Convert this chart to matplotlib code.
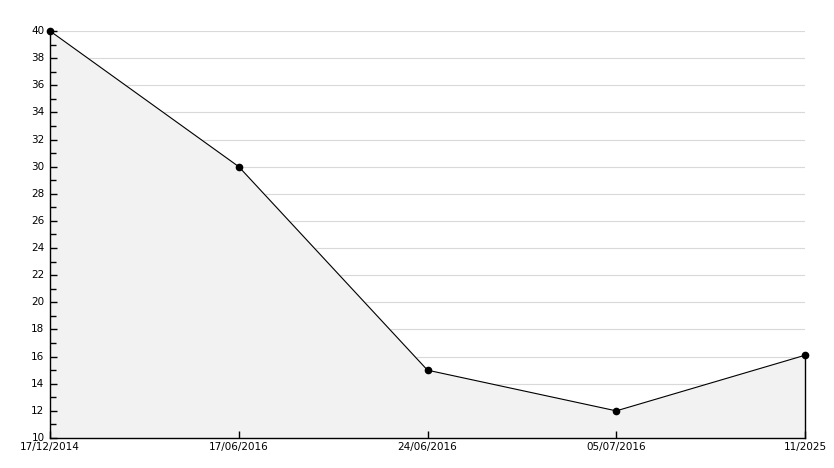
import matplotlib
matplotlib.use("Agg")
import matplotlib.pyplot as plt
import numpy as np

labels = ["17/12/2014", "17/06/2016", "24/06/2016", "05/07/2016", "11/2025"]
values = [40, 30, 15, 12, 16.1]

W, H = 834, 468
fig = plt.figure(figsize=(W/100, H/100), dpi=100)
ax = fig.add_axes([50/W, (H-438)/H, 755/W, 407/H])

x = np.arange(len(values))
yticks = np.arange(10, 41, 2)
for yv in yticks[1:]:
    ax.axhline(yv, color="#d9d9d9", lw=0.8, zorder=0.5)
ax.fill_between(x, values, 10, color="#f2f2f2", zorder=1)
ax.plot(x, values, color="black", lw=0.8, zorder=3, clip_on=False)
ax.plot([x[-1], x[-1]], [10, values[-1]], color="black", lw=1.0, zorder=3, clip_on=False)
ax.plot(x, values, ls="none", marker="o", ms=4.5, color="black", zorder=6, clip_on=False)

ax.set_xlim(0, len(values)-1)
ax.set_ylim(10, 40)
ax.set_yticks(yticks)
ax.set_yticks(np.arange(11, 40, 2), minor=True)
ax.set_xticks(x)
ax.set_xticklabels(labels)
ax.set_axisbelow(False)
for s in ["top", "right"]:
    ax.spines[s].set_visible(False)
for s in ["left", "bottom"]:
    ax.spines[s].set_linewidth(1.0)
    ax.spines[s].set_zorder(5)
ax.tick_params(axis="y", which="major", direction="in", length=5, width=1, labelsize=7.5, pad=4)
ax.tick_params(axis="y", which="minor", direction="in", length=4, width=1, left=True)
ax.tick_params(axis="x", direction="in", length=5, width=1, labelsize=7.5, pad=3)
for t in ax.get_yticklabels():
    t.set_verticalalignment("center")
fig.savefig("out.png", dpi=100)
